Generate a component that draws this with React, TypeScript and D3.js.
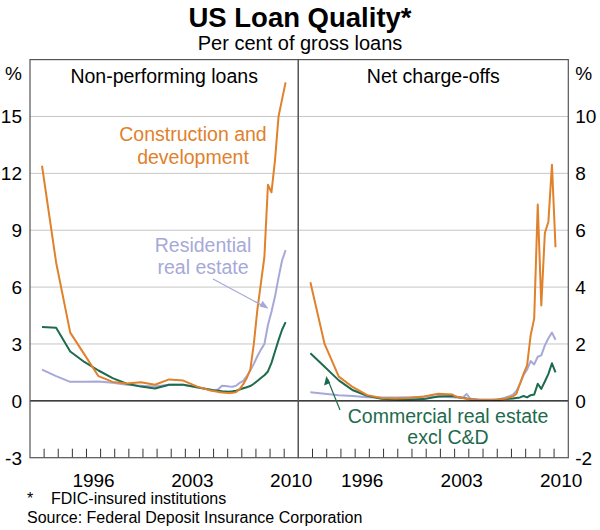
import React from 'react';
import * as d3 from 'd3';

// Non-performing loans (left panel), per cent
const nplDates = [
  1992.85, 1993.85, 1994.85, 1995.85, 1996.85, 1997.85, 1998.85, 1999.85, 2000.85,
  2001.85, 2002.85, 2003.85, 2004.85, 2005.1, 2005.35, 2005.6, 2005.85, 2006.1,
  2006.35, 2006.6, 2006.85, 2007.1, 2007.35, 2007.6, 2007.85, 2008.1, 2008.35,
  2008.6, 2008.85, 2009.1, 2009.35, 2009.6, 2009.85, 2010.1,
];
const nplConstruction = [
  12.4, 7.3, 3.6, 2.45, 1.3, 1.0, 0.92, 0.98, 0.85, 1.13, 1.07, 0.75, 0.53, 0.5, 0.47,
  0.44, 0.42, 0.41, 0.42, 0.46, 0.62, 0.88, 1.2, 1.65, 3.0, 4.8, 6.2, 7.6, 11.4, 11.0,
  12.7, 15.0, 15.9, 16.8,
];
const nplResidential = [
  1.65, 1.3, 1.0, 1.0, 1.02, 0.95, 0.85, 0.8, 0.75, 0.85, 0.85, 0.7, 0.58, 0.55, 0.62,
  0.8, 0.78, 0.75, 0.74, 0.8, 0.95, 1.05, 1.3, 1.6, 1.95, 2.35, 2.7, 3.0, 4.0, 4.7,
  5.5, 6.5, 7.4, 7.95,
];
const nplCommercial = [
  3.9, 3.85, 2.6, 2.05, 1.6, 1.2, 0.9, 0.75, 0.65, 0.85, 0.85, 0.72, 0.57, 0.55, 0.53,
  0.5, 0.49, 0.48, 0.5, 0.53, 0.6, 0.66, 0.72, 0.78, 0.9, 1.05, 1.2, 1.35, 1.55, 2.0,
  2.6, 3.2, 3.75, 4.15,
];

// Net charge-offs (right panel), per cent
const ncoDates = [
  1992.85, 1993.85, 1994.85, 1995.85, 1996.85, 1997.85, 1998.85, 1999.85, 2000.85,
  2001.85, 2002.85, 2003.1, 2003.35, 2003.6, 2003.85, 2004.1, 2004.35, 2004.6, 2004.85,
  2005.1, 2005.35, 2005.6, 2005.85, 2006.1, 2006.35, 2006.6, 2006.85, 2007.1, 2007.35,
  2007.6, 2007.85, 2008.1, 2008.35, 2008.6, 2008.85, 2009.1, 2009.35, 2009.6, 2009.85,
  2010.1,
];
const ncoConstruction = [
  4.17, 2.0, 0.85, 0.48, 0.2, 0.1, 0.08, 0.1, 0.15, 0.25, 0.22, 0.15, 0.12, 0.1, 0.07,
  0.05, 0.04, 0.03, 0.03, 0.03, 0.03, 0.03, 0.04, 0.05, 0.06, 0.08, 0.12, 0.15, 0.25,
  0.6, 0.95, 1.25, 2.3, 2.9, 6.9, 3.35, 5.9, 6.3, 8.3, 5.4,
];
const ncoResidential = [
  0.3, 0.25, 0.2, 0.17, 0.13, 0.12, 0.12, 0.13, 0.14, 0.15, 0.13, 0.12, 0.12, 0.13, 0.24,
  0.08, 0.06, 0.06, 0.05, 0.05, 0.05, 0.05, 0.05, 0.06, 0.08, 0.12, 0.16, 0.22, 0.35,
  0.6, 0.9, 1.1, 1.4, 1.28, 1.55, 1.6, 1.95, 2.2, 2.4, 2.15,
];
const ncoCommercial = [
  1.67, 1.2, 0.72, 0.37, 0.18, 0.07, 0.05, 0.05, 0.06, 0.15, 0.17, 0.14, 0.12, 0.1, 0.08,
  0.05, 0.04, 0.03, 0.03, 0.03, 0.03, 0.03, 0.03, 0.04, 0.05, 0.06, 0.07, 0.08, 0.1,
  0.12, 0.17, 0.12, 0.2, 0.22, 0.6, 0.42, 0.68, 0.95, 1.32, 1.0,
];

const leftTicks = [-3, 0, 3, 6, 9, 12, 15, 18];
const rightTicks = [-2, 0, 2, 4, 6, 8, 10, 12];
const yearLabels = [1996, 2003, 2010];
const tickYears = [
  1993, 1994, 1995, 1996, 1997, 1998, 1999, 2000, 2001, 2002, 2003, 2004, 2005, 2006,
  2007, 2008, 2009, 2010,
];

const ORANGE = '#E0812B';
const LAVENDER = '#A6A9D8';
const GREEN = '#1D6B4C';
const FONT = '"Liberation Sans", Arial, Helvetica, sans-serif';

const TOP = 59.6;
const BOTTOM = 457.7;

interface PanelProps {
  x0: number;
  x1: number;
  domain: [number, number];
  ticks: number[];
  dates: number[];
  series: { values: number[]; color: string }[];
  title: string;
  side: 'left' | 'right';
}

const Panel: React.FC<PanelProps> = ({ x0, x1, domain, ticks, dates, series, title, side }) => {
  const x = d3.scaleLinear().domain([1992, 2011]).range([x0, x1]);
  const y = d3.scaleLinear().domain(domain).range([BOTTOM, TOP]);
  const line = d3
    .line<number>()
    .x((_, i) => x(dates[i]))
    .y((d) => y(d));
  const lx = side === 'left' ? x0 - 8 : x1 + 7;
  const anchor = side === 'left' ? 'end' : 'start';
  return (
    <g>
      {ticks
        .filter((t) => t !== 0 && t !== domain[0] && t !== domain[1])
        .map((t) => (
          <line key={'g' + t} x1={x0} x2={x1} y1={y(t)} y2={y(t)} stroke="#c6c6c6" strokeWidth={1} />
        ))}
      {ticks
        .filter((t) => t !== domain[1])
        .map((t) => (
          <text key={'t' + t} x={lx} y={y(t) + 7} textAnchor={anchor} fontSize={19} fontFamily={FONT}>
            {t}
          </text>
        ))}
      <text x={lx} y={80} textAnchor={anchor} fontSize={19} fontFamily={FONT}>
        %
      </text>
      {tickYears.map((yr) => (
        <line key={'x' + yr} x1={x(yr)} x2={x(yr)} y1={BOTTOM} y2={BOTTOM - 9} stroke="#333" strokeWidth={1} />
      ))}
      {yearLabels.map((yr) => (
        <text key={'l' + yr} x={x(yr + 0.5)} y={487} textAnchor="middle" fontSize={19} fontFamily={FONT}>
          {yr}
        </text>
      ))}
      <text x={(x0 + x1) / 2} y={83} textAnchor="middle" fontSize={19.5} fontFamily={FONT}>
        {title}
      </text>
      {series.map((s, i) => (
        <path key={i} d={line(s.values) || ''} fill="none" stroke={s.color} strokeWidth={2} strokeLinejoin="round" />
      ))}
      <line x1={x0} x2={x1} y1={y(0)} y2={y(0)} stroke="#000" strokeWidth={1.2} />
      <rect x={x0} y={TOP} width={x1 - x0} height={BOTTOM - TOP} fill="none" stroke="#555" strokeWidth={1.2} />
    </g>
  );
};

const App: React.FC = () => {
  return (
    <svg width={600} height={530} style={{ position: 'absolute', left: 0, top: 0 }} fontFamily={FONT}>
      <rect width={600} height={530} fill="#fff" />
      <text x={300} y={27} textAnchor="middle" fontSize={27.5} fontWeight="bold">
        US Loan Quality*
      </text>
      <text x={300} y={50} textAnchor="middle" fontSize={20}>
        Per cent of gross loans
      </text>

      <Panel
        x0={30}
        x1={298.3}
        domain={[-3, 18]}
        ticks={leftTicks}
        dates={nplDates}
        title="Non-performing loans"
        side="left"
        series={[
          { values: nplResidential, color: LAVENDER },
          { values: nplCommercial, color: GREEN },
          { values: nplConstruction, color: ORANGE },
        ]}
      />
      <Panel
        x0={298.3}
        x1={568.3}
        domain={[-2, 12]}
        ticks={rightTicks}
        dates={ncoDates}
        title="Net charge-offs"
        side="right"
        series={[
          { values: ncoResidential, color: LAVENDER },
          { values: ncoCommercial, color: GREEN },
          { values: ncoConstruction, color: ORANGE },
        ]}
      />

      {/* annotations */}
      <g fill={ORANGE} fontSize={19.5} textAnchor="middle">
        <text x={193} y={141}>Construction and</text>
        <text x={193} y={164}>development</text>
      </g>
      <g fill={LAVENDER} fontSize={19.5} textAnchor="middle">
        <text x={203} y={252}>Residential</text>
        <text x={203} y={274}>real estate</text>
      </g>
      <line x1={213} y1={279} x2={266} y2={307.5} stroke={LAVENDER} strokeWidth={1.2} />
      <path d="M268.5,308.8 L259.5,306.5 L262.6,300.8 Z" fill={LAVENDER} />

      <g fill={GREEN} fontSize={19.5} textAnchor="middle">
        <text x={448} y={423}>Commercial real estate</text>
        <text x={448} y={444}>excl C&amp;D</text>
      </g>
      <line x1={340} y1={410} x2={327.5} y2={379} stroke={GREEN} strokeWidth={1.2} />
      <path d="M326.4,376 L324,385.5 L330.3,383 Z" fill={GREEN} />

      {/* footnotes */}
      <g fontSize={16}>
        <text x={27} y={504}>*</text>
        <text x={51} y={504}>FDIC-insured institutions</text>
        <text x={27} y={523}>Source: Federal Deposit Insurance Corporation</text>
      </g>
    </svg>
  );
};

export default App;
